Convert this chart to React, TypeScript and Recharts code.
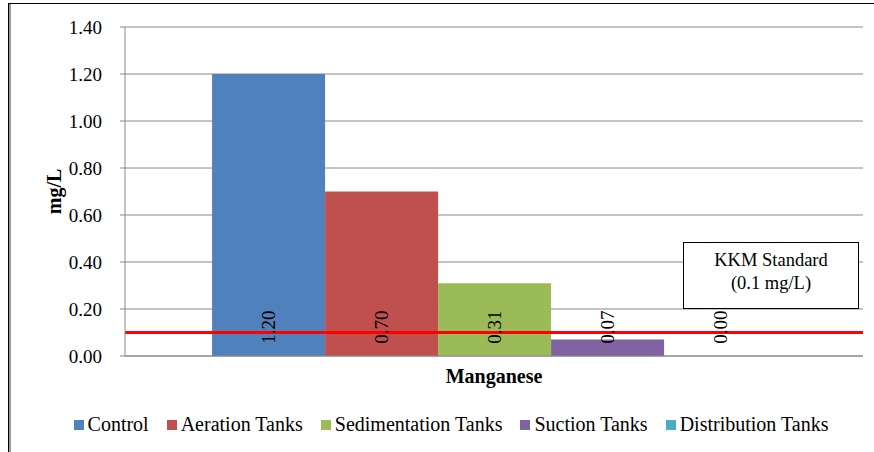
import React from 'react';
import {
  BarChart,
  Bar,
  XAxis,
  YAxis,
  CartesianGrid,
  LabelList,
  ReferenceLine,
} from 'recharts';

// Manganese levels at each treatment stage (mg/L)
const categories = ['Manganese'];
const stages = ['Control', 'Aeration Tanks', 'Sedimentation Tanks', 'Suction Tanks', 'Distribution Tanks'];
const stageKeys = ['control', 'aeration', 'sedimentation', 'suction', 'distribution'];
const stageColors = ['#4F81BD', '#C0504D', '#9BBB59', '#8064A2', '#4BACC6'];
const manganeseValues = [1.2, 0.7, 0.31, 0.07, 0.0];
const yTicks = [0, 0.2, 0.4, 0.6, 0.8, 1.0, 1.2, 1.4];
const kkmStandard = 0.1;

const data = categories.map((name) => {
  const row: Record<string, any> = { name };
  stageKeys.forEach((k, i) => {
    row[k] = manganeseValues[i];
  });
  return row;
});

const FONT = '"Times New Roman", "Liberation Serif", "DejaVu Serif", serif';

// value text sits rotated just above the base of each bar
const renderValueLabel = (props: any) => {
  const { x, y, width, height, value } = props;
  const h = Number.isFinite(Number(height)) ? Number(height) : 0;
  const cx = Number(x) + Number(width) / 2;
  const cy = Number(y) + h - 29;
  return (
    <text
      x={cx}
      y={cy}
      transform={`rotate(-90 ${cx} ${cy})`}
      textAnchor="middle"
      dominantBaseline="central"
      style={{ fontFamily: FONT, fontSize: 19 }}
      fill="#000"
    >
      {Number(value).toFixed(2)}
    </text>
  );
};

const renderYLabel = (props: any) => {
  const vb = props.viewBox || {};
  const cx = 54;
  const cy = (vb.y ?? 0) + (vb.height ?? 0) / 2;
  return (
    <text
      x={cx}
      y={cy}
      transform={`rotate(-90 ${cx} ${cy})`}
      textAnchor="middle"
      dominantBaseline="central"
      style={{ fontFamily: FONT, fontSize: 20, fontWeight: 'bold' }}
      fill="#000"
    >
      mg/L
    </text>
  );
};

export default function App() {
  return (
    <div
      style={{
        position: 'absolute',
        left: 0,
        top: 0,
        width: 874,
        height: 452,
        background: '#fff',
        overflow: 'hidden',
      }}
    >
      {/* chart frame: only the top and left edges fall inside the image */}
      <div
        style={{
          position: 'absolute',
          left: 8,
          top: 3,
          width: 900,
          height: 500,
          borderTop: '1px solid #000',
          borderLeft: '1px solid #000',
          boxShadow: 'inset 2px 0 0 #9a9a9a',
        }}
      />
      <BarChart
        width={874}
        height={452}
        data={data}
        margin={{ top: 27, right: 11, left: 0, bottom: 66 }}
        barCategoryGap="11.8%"
        barGap={0}
        style={{ position: 'absolute', left: 0, top: 0 }}
      >
        <CartesianGrid vertical={false} stroke="#888" strokeWidth={1} />
        <XAxis
          dataKey="name"
          height={30}
          axisLine={{ stroke: '#888' }}
          tickLine={false}
          tickMargin={7}
          tick={{ style: { fontFamily: FONT, fontSize: 20, fontWeight: 'bold' }, fill: '#000' }}
        />
        <YAxis
          width={125}
          domain={[0, 1.4]}
          ticks={yTicks}
          interval={0}
          tickFormatter={(v: number) => v.toFixed(2)}
          axisLine={{ stroke: '#888' }}
          tickLine={{ stroke: '#888' }}
          tickSize={5}
          tickMargin={18}
          tick={{ style: { fontFamily: FONT, fontSize: 19 }, fill: '#000' }}
          label={{ content: renderYLabel }}
        />
        {stageKeys.map((k, i) => (
          <Bar
            key={k}
            dataKey={k}
            name={stages[i]}
            fill={stageColors[i]}
            minPointSize={0.01}
            isAnimationActive={false}
          >
            <LabelList dataKey={k} content={renderValueLabel} />
          </Bar>
        ))}
        <ReferenceLine y={kkmStandard} stroke="#ff0000" strokeWidth={3} />
      </BarChart>

      {/* series legend */}
      <div
        style={{
          position: 'absolute',
          left: 14,
          width: 874,
          top: 413,
          display: 'flex',
          justifyContent: 'center',
          fontFamily: FONT,
          fontSize: 20,
          color: '#000',
          gap: 18,
        }}
      >
        {stages.map((s, i) => (
          <div key={s} style={{ display: 'flex', alignItems: 'center' }}>
            <span
              style={{
                width: 10,
                height: 10,
                background: stageColors[i],
                marginRight: 4,
                display: 'inline-block',
              }}
            />
            <span>{s}</span>
          </div>
        ))}
      </div>

      <div
        style={{
          position: 'absolute',
          left: 683,
          top: 242,
          width: 176,
          height: 67,
          border: '1px solid #000',
          background: '#fff',
          fontFamily: FONT,
          fontSize: 18.5,
          lineHeight: '23px',
          textAlign: 'center',
          paddingTop: 6,
          boxSizing: 'border-box',
          color: '#000',
        }}
      >
        KKM Standard
        <br />
        (0.1 mg/L)
      </div>
    </div>
  );
}
